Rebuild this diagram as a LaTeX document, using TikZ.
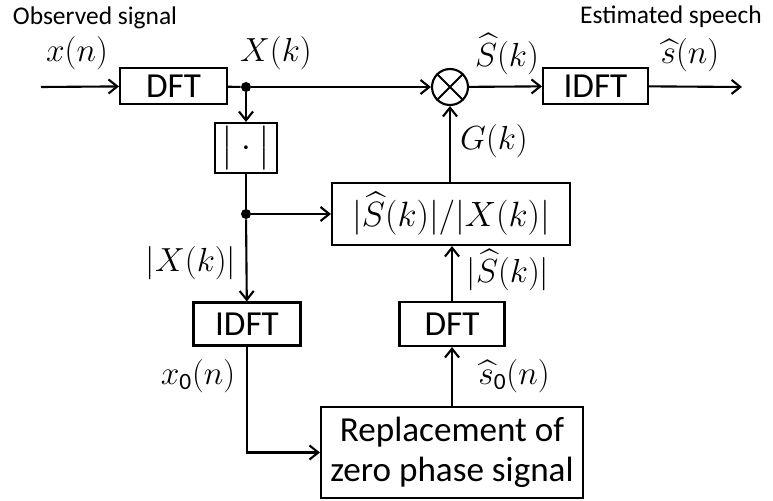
\documentclass[tikz,border=0pt]{standalone}
\usepackage{fix-cm}
\usepackage{amsmath,amssymb}
\usepackage{fontspec}
\setmainfont{Carlito}
\usetikzlibrary{arrows.meta,positioning}

\begin{document}
\begin{tikzpicture}[x=0.02cm, y=-0.02cm,
    blk/.style={draw, line width=1.2pt, inner sep=0pt, align=center, font=\fontsize{20}{23}\selectfont},
    lbl/.style={inner sep=1pt, font=\fontsize{19}{22}\selectfont},
    captext/.style={inner sep=1pt, font=\fontsize{14.5}{17}\selectfont},
    arr/.style={-{Straight Barb[length=5pt,width=8pt]}, line width=1.2pt},
    ln/.style={line width=1.2pt},
    jdot/.style={circle, fill, inner sep=0pt, minimum size=0.2cm}
]
\useasboundingbox (0,0) rectangle (773,500);

% blocks
\node[blk, minimum width=2.14cm, minimum height=0.72cm] (dft1) at (173.5,86) {DFT};
\node[blk, minimum width=2.1cm, minimum height=0.72cm] (idft1) at (595.5,86) {IDFT};
\node[draw, circle, line width=1.2pt, minimum size=0.72cm, inner sep=0pt] (mul) at (450,87) {};
\node[blk, minimum width=1.24cm, minimum height=1.0cm] (absv) at (246,148) {$\big|\cdot\big|$};
\node[blk, minimum width=4.76cm, minimum height=1.24cm] (ratio) at (451,214) {$|\widehat{S}(k)|/|X(k)|$};
\node[blk, minimum width=2.14cm, minimum height=0.86cm] (idft2) at (247,324) {IDFT};
\node[blk, minimum width=2.1cm, minimum height=0.88cm] (dft2) at (452,324) {DFT};
\node[blk, minimum width=5.24cm, minimum height=1.82cm] (repl) at (452,452.5) {Replacement of\\zero phase signal};
\draw[ln] (mul.north west) -- (mul.south east) (mul.north east) -- (mul.south west);

% junctions and terminals
\node[jdot] (j1) at (246,87) {};
\node[jdot] (j2) at (246,214) {};
\coordinate (in) at (41,87);
\coordinate (out) at (742,87);

% labels
\node[captext] (obs) at (95,18) {Observed signal};
\node[captext] (est) at (671,17) {Estimated speech};
\node[lbl] (lx) at (77,53) {$x(n)$};
\node[lbl] (lX) at (276,53) {$X(k)$};
\node[lbl] (lS) at (507,54) {$\widehat{S}(k)$};
\node[lbl] (ls) at (690,55) {$\widehat{s}(n)$};
\node[lbl] (lG) at (494,141) {$G(k)$};
\node[lbl] (lXa) at (191,263) {$|X(k)|$};
\node[lbl] (lSa) at (508,270) {$|\widehat{S}(k)|$};
\node[lbl] (lx0) at (198,376) {$x_{\text{0}}(n)$};
\node[lbl] (ls0) at (514,376) {$\widehat{s}_{\text{0}}(n)$};

% connectors
\draw[arr] (in) -- (dft1);
\draw[ln] (dft1) -- (j1);
\draw[arr] (j1) -- (mul);
\draw[arr] (mul) -- (idft1);
\draw[arr] (idft1) -- (out);
\draw[arr] (j1) -- (absv);
\draw[ln] (absv) -- (j2);
\draw[arr] (j2) -- (ratio);
\draw[arr] (j2) -- (idft2);
\draw[arr] (idft2.south) |- (repl.west);
\draw[arr] (repl.north -| dft2) -- (dft2);
\draw[arr] (dft2) -- (ratio.south -| dft2);
\draw[arr] (ratio.north -| mul) -- (mul);
\end{tikzpicture}
\end{document}
